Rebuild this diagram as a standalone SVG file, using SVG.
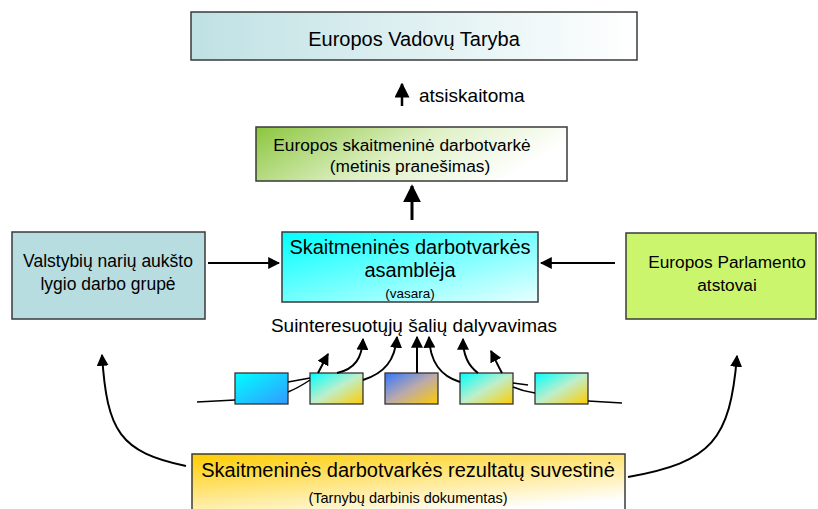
<svg xmlns="http://www.w3.org/2000/svg" width="818" height="509" viewBox="0 0 818 509">
<defs>
<linearGradient id="gTop" x1="0" y1="0" x2="1" y2="0"><stop offset="0" stop-color="#bfe1e4"/><stop offset="1" stop-color="#ffffff"/></linearGradient>
<linearGradient id="gGreen" x1="0" y1="0" x2="1" y2="0.3"><stop offset="0" stop-color="#8cc63e"/><stop offset="0.55" stop-color="#def0c4"/><stop offset="1" stop-color="#ffffff"/></linearGradient>
<linearGradient id="gCyan" x1="0" y1="0" x2="1" y2="1"><stop offset="0" stop-color="#00ffff"/><stop offset="1" stop-color="#e8ffff"/></linearGradient>
<linearGradient id="gYellow" x1="0" y1="0" x2="0.6" y2="1"><stop offset="0" stop-color="#ffcc00"/><stop offset="1" stop-color="#ffffff"/></linearGradient>
<linearGradient id="gSmallA" x1="0" y1="0" x2="1" y2="1"><stop offset="0" stop-color="#00ffff"/><stop offset="1" stop-color="#3399ff"/></linearGradient>
<linearGradient id="gSmallB" x1="0" y1="0" x2="1" y2="1"><stop offset="0" stop-color="#00ffff"/><stop offset="0.5" stop-color="#bfeeca"/><stop offset="1" stop-color="#ffcc00"/></linearGradient>
<linearGradient id="gSmallC" x1="0" y1="0" x2="1" y2="1"><stop offset="0" stop-color="#3377ff"/><stop offset="0.5" stop-color="#bbaaaa"/><stop offset="1" stop-color="#ffcc00"/></linearGradient>
<marker id="ah" viewBox="0 0 10 10" refX="9" refY="5" markerWidth="6" markerHeight="6" orient="auto" markerUnits="strokeWidth"><path d="M0,0 L10,5 L0,10 z" fill="#000"/></marker>
<marker id="ahs" viewBox="0 0 10 10" refX="9" refY="5" markerWidth="6" markerHeight="6" orient="auto" markerUnits="strokeWidth"><path d="M0,0 L10,5 L0,10 z" fill="#000"/></marker>
</defs>
<style>
.box{stroke:#3a3a3a;stroke-width:1.5}
.sb{stroke:#333;stroke-width:1.3}
text{font-family:"Liberation Sans",Arial,sans-serif;fill:#000;text-anchor:middle}
.c{fill:none;stroke:#000;stroke-width:2}
.t{fill:none;stroke:#000;stroke-width:1.5}
</style>

<g id="council">
<rect class="box" x="191" y="12" width="446" height="48" fill="url(#gTop)"/>
<text x="414" y="46" font-size="20">Europos Vadovų Taryba</text>
</g>

<g id="accountable">
<text x="419" y="102" font-size="19" style="text-anchor:start">atsiskaitoma</text>
</g>

<g id="agenda">
<rect class="box" x="256" y="127" width="311" height="54" fill="url(#gGreen)"/>
<text x="402" y="151" font-size="17.3">Europos skaitmeninė darbotvarkė</text>
<text x="410" y="172" font-size="17.3">(metinis pranešimas)</text>
</g>

<g id="assembly">
<rect class="box" x="282" y="232" width="256" height="70" fill="url(#gCyan)"/>
<text x="410" y="254" font-size="20">Skaitmeninės darbotvarkės</text>
<text x="410" y="277" font-size="20">asamblėja</text>
<text x="410" y="298" font-size="13.5">(vasara)</text>
</g>

<g id="member-states">
<rect class="box" x="12" y="232" width="193" height="87" fill="#b7dde1"/>
<text x="108" y="267" font-size="17.5">Valstybių narių aukšto</text>
<text x="108" y="290" font-size="17.5">lygio darbo grupė</text>
</g>

<g id="parliament">
<rect class="box" x="626" y="233" width="190" height="86" fill="#ccf56e"/>
<text x="727" y="268" font-size="17.3">Europos Parlamento</text>
<text x="727" y="291" font-size="17.3">atstovai</text>
</g>

<g id="stakeholders">
<text x="414" y="332" font-size="19">Suinteresuotųjų šalių dalyvavimas</text>
</g>

<g id="s1"><rect class="sb" x="235" y="373" width="53" height="31" fill="url(#gSmallA)"/></g>
<g id="s2"><rect class="sb" x="310" y="373" width="53" height="31" fill="url(#gSmallB)"/></g>
<g id="s3"><rect class="sb" x="385" y="373" width="53" height="31" fill="url(#gSmallC)"/></g>
<g id="s4"><rect class="sb" x="460" y="373" width="53" height="31" fill="url(#gSmallB)"/></g>
<g id="s5"><rect class="sb" x="535" y="373" width="53" height="31" fill="url(#gSmallB)"/></g>

<g id="summary">
<rect class="box" x="192" y="454" width="433" height="60" fill="url(#gYellow)"/>
<text x="408" y="477" font-size="20">Skaitmeninės darbotvarkės rezultatų suvestinė</text>
<text x="408" y="503" font-size="14.5">(Tarnybų darbinis dokumentas)</text>
</g>

<g id="connectors">
<path d="M402,106 L402,84" stroke="#000" stroke-width="2.5" fill="none" marker-end="url(#ahs)"/>
<path d="M412,220 L412,186" stroke="#000" stroke-width="3" fill="none" marker-end="url(#ahs)"/>
<path d="M208,263 L279,263" class="c" marker-end="url(#ahs)"/>
<path d="M615,263 L541,263" class="c" marker-end="url(#ahs)"/>

<path d="M197,402 L235,400" class="t"/>
<path d="M288,382 L310,378" class="t"/>
<path d="M288,392 C298,388 304,384 310,380" class="t"/>
<path d="M513,383 L528,385" class="t"/>
<path d="M513,387 C520,390 528,392 535,393" class="t"/>
<path d="M588,401 L622,403" class="t"/>

<path d="M318,373 L328,354" class="c" marker-end="url(#ah)"/>
<path d="M337,373 C355,369 362,358 363,339" class="c" marker-end="url(#ah)"/>
<path d="M363,380 C385,373 395,360 397,337" class="c" marker-end="url(#ah)"/>
<path d="M417,373 L417,337" class="c" stroke-width="2.5" marker-end="url(#ah)"/>
<path d="M460,382 C440,376 430,362 429,337" class="c" marker-end="url(#ah)"/>
<path d="M478,373 C467,365 463,352 463,339" class="c" marker-end="url(#ah)"/>
<path d="M502,373 C498,366 495,359 491,351" class="c" marker-end="url(#ah)"/>

<path d="M186,466 C120,452 107,432 102,355" class="c" marker-end="url(#ah)"/>
<path d="M628,477 C712,462 730,440 737,356" class="c" marker-end="url(#ah)"/>
</g>
</svg>
